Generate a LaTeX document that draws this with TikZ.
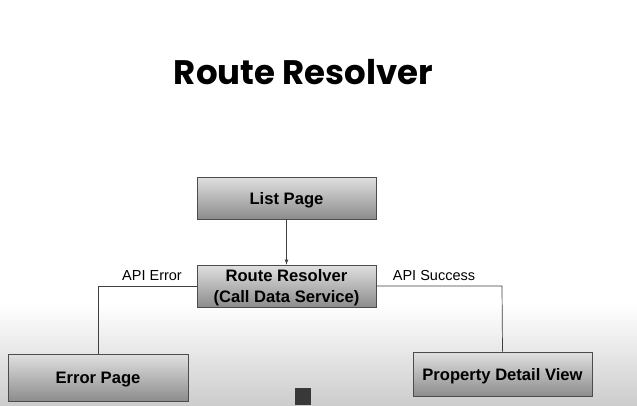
\documentclass[tikz,border=0pt]{standalone}
\usepackage{fontspec}
\setmainfont{Liberation Sans}
\newfontfamily\titlefont{Poppins}
\begin{document}
\begin{tikzpicture}[x=1pt,y=-1pt,
  box/.style={draw=black!70, line width=0.8pt, top color=black!12, bottom color=black!45,
    minimum height=42pt, inner sep=0pt, text depth=0pt, font=\bfseries\fontsize{16.6}{20.5}\selectfont, align=center},
  conn/.style={draw=black!75, line width=0.7pt},
  lbl/.style={font=\fontsize{14.5}{16}\selectfont, inner sep=0pt}]
\useasboundingbox (0,0) rectangle (637,405);
\fill[white] (0,0) rectangle (637,305);
\shade[top color=white, bottom color=black!20] (0,305) rectangle (637,405);
\node[font=\titlefont\fontsize{34}{38}\selectfont\bfseries, anchor=base] (title) at (303.5,84) {Route Resolver};
\node[box, minimum width=179pt] (list) at (286.5,198) {List Page};
\node[box, minimum width=179pt] (rr) at (286.5,286) {Route Resolver\\(Call Data Service)};
\node[box, minimum width=180pt, minimum height=47pt] (err) at (98,377.5) {Error Page};
\node[box, minimum width=179pt, minimum height=44pt] (pdv) at (502.5,374) {Property Detail View};
\coordinate (lc) at (98,286);
\coordinate (rc) at (502,286);
\draw[conn, -latex] (list) -- (rr);
\draw[conn] (rr.west) -- (lc) -- (err.north);
\draw[conn] (rr.east) -- (rc) -- (pdv.north);
\node[lbl] (le) at (152,275.5) {API Error};
\node[lbl] (ls) at (434,275.5) {API Success};
\fill[black!78] (295,388) rectangle (311,405);
\end{tikzpicture}
\end{document}
